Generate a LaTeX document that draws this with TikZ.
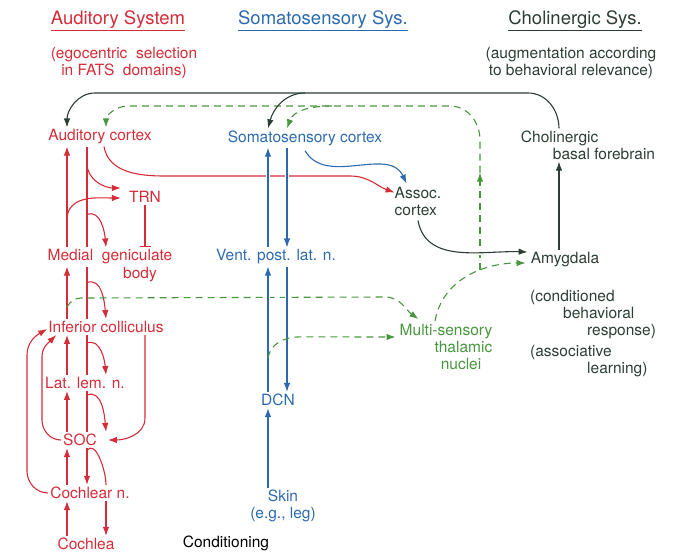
\documentclass[tikz,border=0pt]{standalone}
\usepackage{fontspec}
\setmainfont{TeX Gyre Heros}
\usepackage{tikz}
\usetikzlibrary{arrows.meta,calc,positioning}

\definecolor{audred}{RGB}{212,44,56}
\definecolor{somblue}{RGB}{44,106,176}
\definecolor{multgreen}{RGB}{72,150,62}
\definecolor{choldark}{RGB}{44,62,52}

\tikzset{
  lbl/.style={inner sep=2pt, font=\fontsize{15.5}{17}\selectfont},
  ttl/.style={inner sep=2pt, font=\fontsize{18.5}{20}\selectfont},
  audln/.style={draw=audred, line width=1.1pt},
  somln/.style={draw=somblue, line width=1.1pt},
  cholln/.style={draw=choldark, line width=1.1pt},
  multln/.style={draw=multgreen, line width=1.1pt, dash pattern=on 7pt off 5pt},
  whitegap/.style={preaction={draw=white, line width=4.5pt, -, solid}},
}

\begin{document}
\begin{tikzpicture}[x=1pt, y=-1pt, >={Latex[length=9pt,width=6.5pt]}]
    \useasboundingbox (0,0) rectangle (677,554);

    % Titoli
    \node[ttl, text=audred] (tAud) at (118,21) {\underline{Auditory System}};
    \node[ttl, text=somblue] (tSom) at (323,21) {\underline{Somatosensory Sys.}};
    \node[ttl, text=choldark] (tChol) at (575,21) {\underline{Cholinergic Sys.}};
    \node[lbl, text=audred, align=center] (ego) at (124,63) {(egocentric\ \ selection\\in FATS\ \ domains)};
    \node[lbl, text=choldark, align=center] (aug) at (571,63) {(augmentation according\\to behavioral relevance)};

    % Colonne delle vie
    \coordinate (cL2) at (27,0);
    \coordinate (cL1) at (42,0);
    \coordinate (cA) at (67,0);
    \coordinate (cB) at (87,0);
    \coordinate (cC) at (106,0);
    \coordinate (cR) at (145,0);
    \coordinate (cS1) at (268,0);
    \coordinate (cS2) at (287,0);
    \coordinate (cG) at (480,0);
    \coordinate (cK) at (559,0);

    % Sistema uditivo
    \node[lbl, text=audred] (aud) at (100,137) {Auditory cortex};
    \node[lbl, text=audred] (trn) at (145,197) {TRN};
    \node[lbl, text=audred] (mgb) at (110,257) {Medial\ \ geniculate};
    \node[lbl, text=audred] (mgbb) at (140,275) {body};
    \node[lbl, text=audred] (ic) at (106,327) {Inferior colliculus};
    \node[lbl, text=audred] (lln) at (85,383) {Lat. lem. n.};
    \node[lbl, text=audred] (soc) at (80,440) {SOC};
    \node[lbl, text=audred] (cn) at (90,493) {Cochlear n.};
    \node[lbl, text=audred] (coch) at (86,544) {Cochlea};

    % Sistema somatosensoriale
    \node[lbl, text=somblue] (ssc) at (305,138) {Somatosensory cortex};
    \node[lbl, text=somblue] (vpl) at (276,257) {Vent. post. lat. n.};
    \node[lbl, text=somblue] (dcn) at (278,400) {DCN};
    \node[lbl, text=somblue, align=center] (skin) at (283,506) {Skin\\(e.g., leg)};

    % Sistema colinergico
    \node[lbl, text=choldark, align=left] (cbf) at (588,145) {Cholinergic\\\hspace*{32pt}basal forebrain};
    \node[lbl, text=choldark, align=left] (asc) at (418,201) {Assoc.\\cortex};
    \node[lbl, text=choldark] (amy) at (565,260) {Amygdala};
    \node[lbl, text=multgreen, align=right] (msn) at (446,347) {Multi-sensory\\thalamic\hspace*{11pt}\\nuclei\hspace*{11pt}};
    \node[lbl, text=choldark, align=left, anchor=north west] (cond) at (528,288) {(conditioned\\\hspace*{33pt}behavioral\\\hspace*{57pt}response)};
    \node[lbl, text=choldark, align=left, anchor=north west] (asl) at (528,343) {(associative\\\hspace*{57pt}learning)};
    \node[lbl, text=black] (condi) at (226,543) {Conditioning};

    % Via ascendente uditiva
    \draw[audln,->] (coch.north -| cA) -- (cn.south -| cA);
    \draw[audln,->] (cn.north -| cA) -- (soc.south -| cA);
    \draw[audln,->] (soc.north -| cA) -- (lln.south -| cA);
    \draw[audln,->] (lln.north -| cA) -- (ic.south -| cA);
    \draw[audln,->] (ic.north -| cA) -- (mgb.south -| cA);
    \draw[audln,->] (mgb.north -| cA) -- (aud.south -| cA);

    % Via discendente uditiva
    \draw[audln] (aud.south -| cB) -- (mgb.north -| cB);
    \draw[audln] (mgb.south -| cB) -- (ic.north -| cB);
    \draw[audln] (ic.south -| cB) -- (lln.north -| cB);
    \draw[audln] (lln.south -| cB) -- (soc.north -| cB);
    \draw[audln,->] (soc.south -| cB) -- (cn.north -| cB);
    \draw[audln,->] (cn.south -| cC) -- (coch.north -| cC);

    % Rami
    \draw[audln,->] ($(aud.south -| cB)+(0,17)$) to[out=-90,in=180] ($(trn.west)+(-6,-9)$);
    \draw[audln,->] ($(mgb.north -| cA)+(0,-31)$) to[out=80,in=180] ($(trn.west)+(-6,1)$);
    \draw[audln,->] ($(mgb.north -| cB)+(0,-33)$) to[out=20,in=95] (mgb.north -| cC);
    \draw[audln,->] ($(mgb.south -| cB)+(0,16)$) to[out=20,in=95] (ic.north -| cC);
    \draw[audln,->] ($(ic.south -| cB)+(0,8)$) to[out=20,in=95] (lln.north -| cC);
    \draw[audln,->] ($(lln.south -| cB)+(0,4)$) to[out=20,in=95] (soc.north -| cC);
    \draw[audln] ($(soc.south -| cB)+(0,3)$) to[out=60,in=90] (cn.north -| cC);
    \draw[audln,-{Bar[width=11pt]}] (trn.south) -- (mgb.north -| trn.south);

    % Anelli
    \draw[audln,->] (ic.south -| cR) -- ($(soc.east -| cR)+(0,-22)$) to[out=-90,in=0] ($(soc.east)+(9,0)$);
    \draw[audln,->] (soc.west) to[out=180,in=-90] ($(soc.west -| cL1)+(0,-20)$) -- ($(ic.south -| cL1)+(0,22)$) to[out=90,in=-135] ($(ic.south west)+(10,0)$);
    \draw[audln,->] (cn.west) to[out=180,in=-90] ($(cn.west -| cL2)+(0,-22)$) -- ($(ic.west -| cL2)+(0,28)$) to[out=90,in=-150] ($(ic.west)+(1,2)$);
    \draw[audln,->] ($(aud.south)+(4,0)$) to[out=-80,in=180] (165,176) -- (350,176) to[out=0,in=160] ($(asc.north west)+(2,8)$);

    % Proiezioni multisensoriali
    \draw[multln,->] ($(ic.north -| cA)+(0,-12)$) to[out=60,in=180] ($(ic.north -| cA)+(14,-21)$) -- (385,297) to[out=0,in=145] ($(msn.north west)+(21,-3)$);
    \draw[multln,->] ($(msn.north)+(-11,-1)$) to[out=80,in=180] ($(amy.west)+(-3,3)$);
    \coordinate (gfork) at (480,270);
    \draw[multln,->] (gfork) -- ($(cG |- asc.north)+(0,-12)$);
    \draw[multln,->] ($(cG |- asc.north)+(0,-12)$) -- (480,140) to[out=90,in=0] (450,106) -- (128,106) to[out=180,in=90] (aud.north -| cC);
    \draw[multln,->] (332,106) to[out=180,in=70] (ssc.north -| cS2);

    % Via somatosensoriale
    \draw[somln,whitegap,->] (vpl.north -| cS1) -- (ssc.south -| cS1);
    \draw[somln,whitegap,->] (ssc.south -| cS2) -- (vpl.north -| cS2);
    \draw[somln,whitegap,->] (dcn.north -| cS1) -- (vpl.south -| cS1);
    \draw[somln,whitegap,->] (vpl.south -| cS2) -- (dcn.north -| cS2);
    \draw[somln,->] (skin.north -| cS1) -- (dcn.south -| cS1);
    \draw[somln,->] ($(ssc.south)+(0,3)$) to[out=-60,in=115] ($(asc.north west)+(14,-1)$);
    \draw[multln,->] ($(dcn.north -| cS1)+(0,-34)$) to[out=80,in=180] ($(dcn.north -| cS1)+(32,-55)$) -- ($(msn.west)+(-2,-10)$);

    % Via colinergica
    \draw[cholln,->] (cbf.north -| cK) to[out=90,in=0] (528,93) -- (95,93) to[out=180,in=90] (aud.north -| cA);
    \draw[cholln,->] (305,93) to[out=180,in=75] (ssc.north -| cS1);
    \draw[cholln,->] (amy.north -| cK) -- (cbf.south -| cK);
    \draw[cholln,whitegap,->] ($(asc.south)+(0,3)$) to[out=-80,in=178] ($(amy.west)+(-1,-8)$);
\end{tikzpicture}
\end{document}
